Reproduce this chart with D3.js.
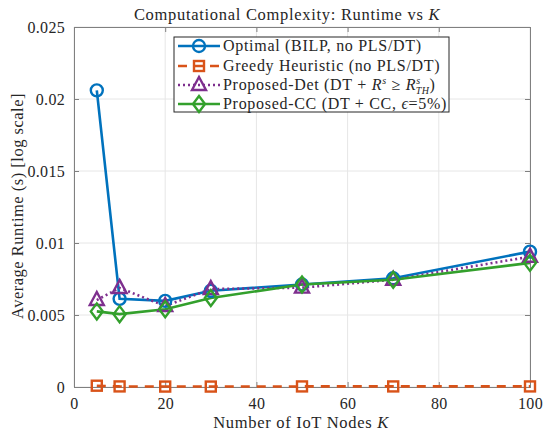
<!DOCTYPE html>
<html>
<head>
<meta charset="utf-8">
<script src="https://cdn.jsdelivr.net/npm/d3@7"></script>
<style>
  body { margin: 0; background: #fff; }
  svg text { font-family: "Liberation Serif", "DejaVu Serif", serif; fill: #262626; }
</style>
</head>
<body>
<svg id="chart"></svg>
<script>
const ctx = {
  width: 550,
  height: 437,
  margin: { top: 27, right: 20, bottom: 50, left: 74 }
};

// data
const nodes = [5, 10, 20, 30, 50, 70, 100];
const optimal = [0.0206, 0.00612, 0.00598, 0.00668, 0.00712, 0.00755, 0.0094];
const greedy = [0.00009, 0.00004, 0.00003, 0.00003, 0.00004, 0.00004, 0.00004];
const propDet = [0.00604, 0.00688, 0.00562, 0.00680, 0.00690, 0.00745, 0.00905];
const propCC = [0.00525, 0.00506, 0.00540, 0.00618, 0.00712, 0.00745, 0.00862];

const xTicks = [0, 20, 40, 60, 80, 100];
const yTicks = [0, 0.005, 0.01, 0.015, 0.02, 0.025];

const series = [
  { name: "optimal", values: optimal, color: "#0072BD", dash: null, marker: "circle" },
  { name: "greedy", values: greedy, color: "#D95319", dash: "9,7", marker: "square" },
  { name: "det", values: propDet, color: "#7E2F8E", dash: "2,3", marker: "triangle" },
  { name: "cc", values: propCC, color: "#33a02c", dash: null, marker: "diamond" }
];

const svg = d3.select("#chart")
  .attr("width", ctx.width)
  .attr("height", ctx.height);

const x = d3.scaleLinear()
  .domain([0, 100])
  .range([ctx.margin.left, ctx.width - ctx.margin.right]);

const y = d3.scaleLinear()
  .domain([0, 0.025])
  .range([ctx.height - ctx.margin.bottom, ctx.margin.top]);

const x0 = ctx.margin.left, x1 = ctx.width - ctx.margin.right;
const y0 = ctx.height - ctx.margin.bottom, y1 = ctx.margin.top;

// grid
svg.append("g").selectAll("line.vgrid")
  .data(xTicks)
  .enter().append("line")
    .attr("x1", d => x(d)).attr("x2", d => x(d))
    .attr("y1", y0).attr("y2", y1)
    .attr("stroke", "#e6e6e6").attr("stroke-width", 1);

svg.append("g").selectAll("line.hgrid")
  .data(yTicks)
  .enter().append("line")
    .attr("x1", x0).attr("x2", x1)
    .attr("y1", d => y(d)).attr("y2", d => y(d))
    .attr("stroke", "#e6e6e6").attr("stroke-width", 1);

// axes (ticks inside, MATLAB style)
svg.append("g")
  .attr("transform", `translate(0, ${y0})`)
  .call(d3.axisBottom(x).tickValues(xTicks).tickSize(-5).tickPadding(11).tickFormat(d3.format("d")));

svg.append("g")
  .attr("transform", `translate(${x0}, 0)`)
  .call(d3.axisLeft(y).tickValues(yTicks).tickSize(-5).tickPadding(9).tickFormat(d => d === 0 ? "0" : String(+d.toFixed(3))));

svg.append("g")
  .attr("transform", `translate(0, ${y1})`)
  .call(d3.axisTop(x).tickValues(xTicks).tickSize(-5).tickFormat(""));

svg.append("g")
  .attr("transform", `translate(${x1}, 0)`)
  .call(d3.axisRight(y).tickValues(yTicks).tickSize(-5).tickFormat(""));

svg.selectAll(".domain").attr("stroke", "#808080");
svg.selectAll(".tick line").attr("stroke", "#808080");
svg.selectAll(".tick text")
  .style("font-family", "'Liberation Serif', serif")
  .style("font-size", "16px")
  .style("letter-spacing", "0.3px")
  .attr("fill", "#262626");

// lines
const line = d3.line()
  .x((d, i) => x(nodes[i]))
  .y(d => y(d));

series.forEach(s => {
  svg.append("path")
    .datum(s.values)
    .attr("fill", "none")
    .attr("stroke", s.color)
    .attr("stroke-width", 2.6)
    .attr("stroke-dasharray", s.dash)
    .attr("d", line);
});

function drawMarker(g, type, cx, cy, color) {
  if (type === "circle") {
    g.append("circle").attr("cx", cx).attr("cy", cy).attr("r", 6)
      .attr("fill", "none").attr("stroke", color).attr("stroke-width", 2.4);
  } else if (type === "square") {
    g.append("rect").attr("x", cx - 5).attr("y", cy - 5).attr("width", 10).attr("height", 10)
      .attr("fill", "none").attr("stroke", color).attr("stroke-width", 2.4);
  } else if (type === "triangle") {
    g.append("path")
      .attr("d", `M${cx},${cy - 8}L${cx + 7},${cy + 5}L${cx - 7},${cy + 5}Z`)
      .attr("fill", "none").attr("stroke", color).attr("stroke-width", 2.4);
  } else if (type === "diamond") {
    g.append("path")
      .attr("d", `M${cx},${cy - 8}L${cx + 6},${cy}L${cx},${cy + 8}L${cx - 6},${cy}Z`)
      .attr("fill", "none").attr("stroke", color).attr("stroke-width", 2.4);
  }
}

series.forEach(s => {
  const g = svg.append("g");
  s.values.forEach((v, i) => drawMarker(g, s.marker, x(nodes[i]), y(v), s.color));
});

// title and labels
svg.append("text")
  .attr("x", 287).attr("y", 20)
  .attr("text-anchor", "middle")
  .style("font-size", "16.5px")
  .style("letter-spacing", "0.7px")
  .html('Computational Complexity: Runtime vs <tspan font-style="italic">K</tspan>');

svg.append("text")
  .attr("x", 301).attr("y", 428)
  .attr("text-anchor", "middle")
  .style("font-size", "16.5px")
  .style("letter-spacing", "0.7px")
  .html('Number of IoT Nodes <tspan font-style="italic">K</tspan>');

svg.append("text")
  .attr("transform", "rotate(-90)")
  .attr("x", -206).attr("y", 23)
  .attr("text-anchor", "middle")
  .style("font-size", "16.5px")
  .style("letter-spacing", "0.5px")
  .text("Average Runtime (s) [log scale]");

// legend
const legend = svg.append("g");
legend.append("rect")
  .attr("x", 174).attr("y", 37).attr("width", 275).attr("height", 75)
  .attr("fill", "#fff").attr("stroke", "#262626").attr("stroke-width", 1);

const legendLabels = [
  'Optimal (BILP, no PLS/DT)',
  'Greedy Heuristic (no PLS/DT)',
  'Proposed-Det (DT + <tspan font-style="italic">R</tspan>' +
    '<tspan font-style="italic" dy="-6" font-size="10px">s</tspan>' +
    '<tspan dy="6"> ≥ </tspan><tspan font-style="italic">R</tspan>' +
    '<tspan font-style="italic" dy="-6" font-size="10px">s</tspan>' +
    '<tspan font-style="italic" dx="-5" dy="10" font-size="10px" letter-spacing="0.5px">TH</tspan>' +
    '<tspan dy="-4">)</tspan>',
  'Proposed-CC (DT + CC, <tspan font-style="italic">ϵ</tspan>=5%)'
];
const legendY = [46, 66, 85, 104];

series.forEach((s, i) => {
  const ly = legendY[i];
  legend.append("line")
    .attr("x1", 178).attr("x2", 220)
    .attr("y1", ly).attr("y2", ly)
    .attr("stroke", s.color).attr("stroke-width", 2.6)
    .attr("stroke-dasharray", s.dash);
  drawMarker(legend, s.marker, 199, ly, s.color);
  legend.append("text")
    .attr("x", 223).attr("y", ly + 5)
    .style("font-size", "16px")
    .style("letter-spacing", "0.7px")
    .html(legendLabels[i]);
});
</script>
</body>
</html>
